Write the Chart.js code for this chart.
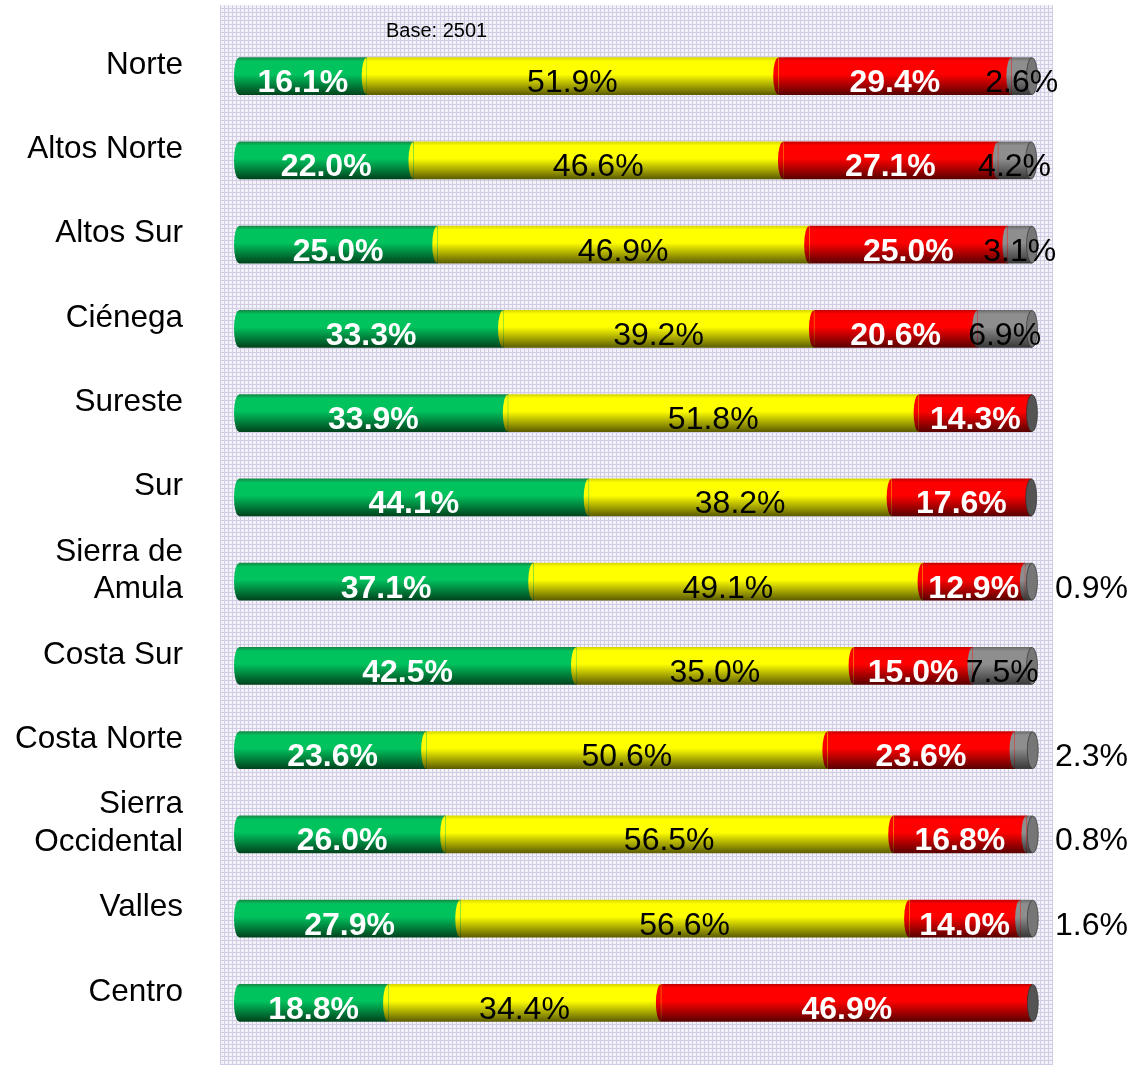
<!DOCTYPE html>
<html>
<head>
<meta charset="utf-8">
<script src="https://cdn.jsdelivr.net/npm/chart.js@4.4.1/dist/chart.umd.min.js"></script>
<style>
  html, body { margin: 0; padding: 0; background: #fff; }
  #caja { width: 1131px; height: 1065px; }
</style>
</head>
<body>
<div id="caja"><canvas id="grafica"></canvas></div>
<script>
const regiones = ['Norte', 'Altos Norte', 'Altos Sur', 'Ciénega', 'Sureste', 'Sur',
  ['Sierra de', 'Amula'], 'Costa Sur', 'Costa Norte', ['Sierra', 'Occidental'], 'Valles', 'Centro'];
const verde    = [16.1, 22.0, 25.0, 33.3, 33.9, 44.1, 37.1, 42.5, 23.6, 26.0, 27.9, 18.8];
const amarillo = [51.9, 46.6, 46.9, 39.2, 51.8, 38.2, 49.1, 35.0, 50.6, 56.5, 56.6, 34.4];
const rojo     = [29.4, 27.1, 25.0, 20.6, 14.3, 17.6, 12.9, 15.0, 23.6, 16.8, 14.0, 46.9];
const gris     = [2.6, 4.2, 3.1, 6.9, 0, 0, 0.9, 7.5, 2.3, 0.8, 1.6, 0];
const base = 'Base: 2501';

// tonos del cilindro: borde superior, brillo, sombra inferior
const tonos = [
  ['#178a48', '#00c35e', '#00441d'],
  ['#d8d800', '#ffff00', '#5e5e00'],
  ['#c80000', '#ff0000', '#5a0000'],
  ['#6c6c6c', '#8e8e8e', '#383838']
];
const grosor = 37;

function degradado(ctx, yc, t) {
  const g = ctx.createLinearGradient(0, yc - grosor / 2, 0, yc + grosor / 2);
  g.addColorStop(0, t[0]);
  g.addColorStop(0.1, t[1]);
  g.addColorStop(0.45, t[1]);
  g.addColorStop(1, t[2]);
  return g;
}

function relleno(i) {
  return (c) => {
    if (c.type !== 'data') return tonos[i][1];
    const yc = c.chart.scales.y ? c.chart.scales.y.getPixelForValue(c.dataIndex) : NaN;
    if (!isFinite(yc)) return tonos[i][1];
    return degradado(c.chart.ctx, yc, tonos[i]);
  };
}

// fondo cuadriculado
const trama = document.createElement('canvas');
trama.width = 4; trama.height = 4;
(function () {
  const p = trama.getContext('2d');
  p.fillStyle = '#f3f2f8';
  p.fillRect(0, 0, 4, 4);
  p.fillStyle = '#d1cce3';
  p.fillRect(0, 0, 4, 1);
  p.fillRect(0, 0, 1, 4);
})();

const fondo = {
  id: 'fondo',
  beforeDraw(chart) {
    const { ctx, chartArea } = chart;
    ctx.save();
    ctx.fillStyle = ctx.createPattern(trama, 'repeat');
    ctx.fillRect(chartArea.left - 19, 5, chartArea.right - chartArea.left + 40, chart.height - 5);
    ctx.fillStyle = '#000';
    ctx.font = '20px "Liberation Sans", Arial, sans-serif';
    ctx.textBaseline = 'alphabetic';
    ctx.fillText(base, chartArea.left + 147, 37);
    ctx.restore();
  }
};

const cilindros = {
  id: 'cilindros',
  afterDatasetsDraw(chart) {
    const { ctx, chartArea } = chart;
    const series = chart.data.datasets;
    ctx.save();
    // extremos elípticos a la izquierda de cada tramo
    series.forEach((ds, i) => {
      chart.getDatasetMeta(i).data.forEach((el, j) => {
        if (!ds.data[j]) return;
        ctx.fillStyle = degradado(ctx, el.y, tonos[i]);
        ctx.beginPath();
        ctx.ellipse(el.base, el.y, 5, grosor / 2, 0, Math.PI / 2, Math.PI * 1.5);
        ctx.closePath();
        ctx.fill();
      });
    });
    // tapa derecha
    regiones.forEach((r, j) => {
      let ult = -1;
      series.forEach((ds, i) => { if (ds.data[j]) ult = i; });
      const el = chart.getDatasetMeta(ult).data[j];
      ctx.fillStyle = ult === 3 ? '#767676' : '#545454';
      ctx.beginPath();
      ctx.ellipse(el.x, el.y, 5.5, grosor / 2, 0, 0, Math.PI * 2);
      ctx.fill();
      ctx.strokeStyle = 'rgba(40,40,40,0.6)';
      ctx.lineWidth = 1;
      ctx.stroke();
    });
    // etiquetas de porcentaje
    series.forEach((ds, i) => {
      const blanco = i === 0 || i === 2;
      ctx.font = (blanco ? 'bold ' : '') + '32px "Liberation Sans", Arial, sans-serif';
      ctx.fillStyle = blanco ? '#fff' : '#000';
      ctx.textBaseline = 'alphabetic';
      chart.getDatasetMeta(i).data.forEach((el, j) => {
        const v = ds.data[j];
        if (!v) return;
        const txt = v.toFixed(1) + '%';
        if (i === 3 && v < 2.5) {
          ctx.textAlign = 'left';
          ctx.fillText(txt, chartArea.right + 23, el.y + 16);
        } else {
          ctx.textAlign = 'center';
          ctx.fillText(txt, (el.x + el.base) / 2, el.y + 16);
        }
      });
    });
    ctx.restore();
  }
};

const graph = document.getElementById('grafica');
const myChart = new Chart(graph, {
  type: 'bar',
  data: {
    labels: regiones,
    datasets: [
      { label: 'verde', data: verde, backgroundColor: relleno(0) },
      { label: 'amarillo', data: amarillo, backgroundColor: relleno(1) },
      { label: 'rojo', data: rojo, backgroundColor: relleno(2) },
      { label: 'gris', data: gris, backgroundColor: relleno(3) }
    ]
  },
  options: {
    indexAxis: 'y',
    responsive: true,
    maintainAspectRatio: false,
    animation: false,
    barThickness: grosor,
    layout: { padding: { top: 34, bottom: 20, right: 99, left: 0 } },
    plugins: {
      legend: { display: false },
      tooltip: { enabled: false }
    },
    scales: {
      x: {
        stacked: true,
        min: 0,
        max: 100,
        display: false
      },
      y: {
        stacked: true,
        grid: { display: false, drawTicks: false },
        border: { display: false },
        afterFit: (s) => {
          s.width = 239;
          s.paddingTop = 0;
          s.paddingBottom = 0;
        },
        ticks: {
          padding: 56,
          labelOffset: -11,
          color: '#000',
          font: { family: '"Liberation Sans", Arial, sans-serif', size: 31.5, lineHeight: 1.18 }
        }
      }
    }
  },
  plugins: [fondo, cilindros]
});
</script>
</body>
</html>
